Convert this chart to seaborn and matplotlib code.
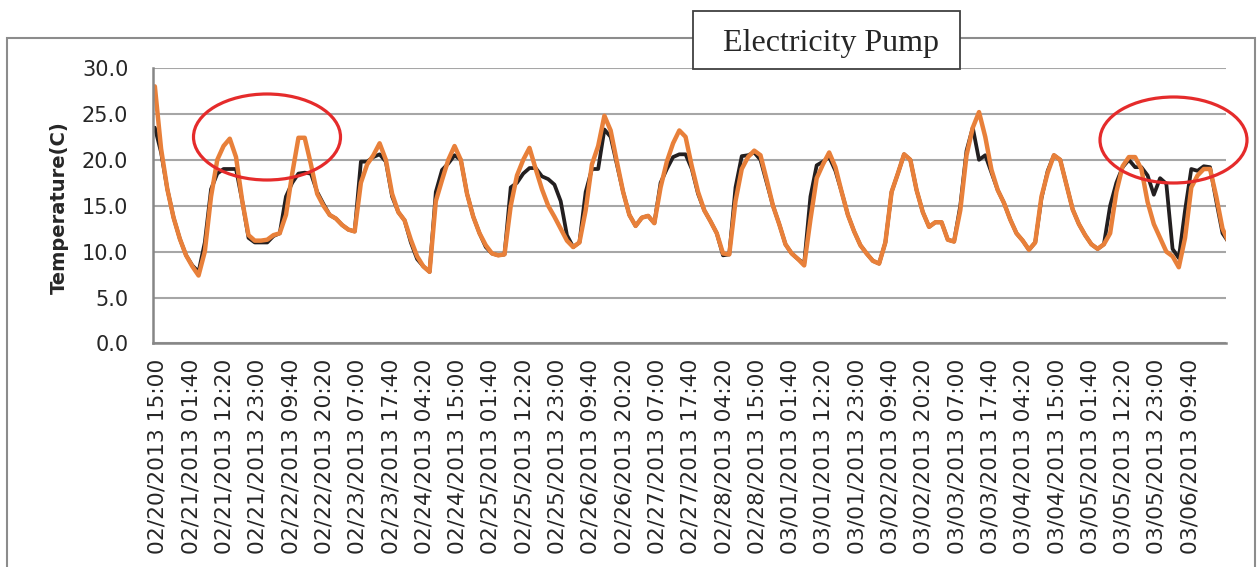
import pandas as pd
import seaborn as sns
import matplotlib.pyplot as plt
from matplotlib.patches import Rectangle, Ellipse

# readings every 2 hours, starting 02/20/2013 14:00
start_time = "2013-02-20 14:00"
step = "2h"

orange_temp = [
    28.0, 21.2, 16.8, 13.7, 11.4, 9.6, 8.4, 7.4, 10.0, 16.0, 20.0, 21.5,
    22.3, 20.3, 15.5, 11.8, 11.2, 11.2, 11.3, 11.8, 12.0, 14.0, 18.5, 22.4,
    22.4, 19.5, 16.3, 15.0, 14.0, 13.6, 12.9, 12.4, 12.2, 17.5, 19.5, 20.5,
    21.8, 20.0, 16.3, 14.3, 13.4, 11.3, 9.5, 8.4, 7.8, 15.5, 17.8, 20.0,
    21.5, 20.0, 16.3, 13.8, 12.0, 10.7, 9.8, 9.6, 9.7, 15.0, 18.3, 20.0,
    21.3, 19.0, 16.8, 15.0, 13.8, 12.5, 11.2, 10.5, 11.0, 14.5, 19.5, 21.5,
    24.8, 23.2, 19.8, 16.5, 14.0, 12.8, 13.7, 13.9, 13.1, 17.0, 19.8, 21.8,
    23.2, 22.5, 19.3, 16.5, 14.5, 13.3, 12.0, 9.8, 9.7, 15.5, 19.0, 20.3,
    21.0, 20.5, 17.8, 15.0, 13.0, 10.8, 9.8, 9.2, 8.5, 13.5, 18.0, 19.5,
    20.8, 19.2, 16.5, 14.0, 12.2, 10.7, 9.8, 9.0, 8.7, 11.0, 16.5, 18.5,
    20.6, 20.0, 16.7, 14.3, 12.7, 13.2, 13.2, 11.3, 11.1, 14.5, 20.5, 23.5,
    25.2, 22.5, 18.9, 16.7, 15.3, 13.5, 12.0, 11.2, 10.2, 11.0, 16.0, 18.6,
    20.5, 20.0, 17.3, 14.6, 13.0, 11.8, 10.8, 10.3, 10.8, 12.0, 16.5, 19.3,
    20.3, 20.3, 19.0, 15.4, 13.0, 11.5, 10.0, 9.5, 8.3, 11.5, 17.0, 18.3,
    19.0, 19.0, 16.0, 12.5, 11.0,
]

black_temp = [
    23.5, 20.8, 16.8, 13.7, 11.4, 9.6, 8.5, 7.8, 11.0, 16.8, 18.5, 19.0,
    19.0, 19.0, 15.5, 11.5, 11.0, 11.0, 11.0, 11.7, 12.0, 16.0, 17.5, 18.5,
    18.6, 18.5, 16.5, 15.2, 14.0, 13.6, 12.9, 12.4, 12.2, 19.8, 19.8, 20.3,
    20.6, 19.8, 16.0, 14.3, 13.4, 11.0, 9.2, 8.4, 7.8, 16.5, 18.9, 19.6,
    20.5, 20.0, 16.3, 13.8, 12.0, 10.5, 9.8, 9.6, 9.7, 17.0, 17.5, 18.5,
    19.1, 19.1, 18.2, 17.9, 17.3, 15.5, 11.8, 10.5, 11.0, 16.5, 19.0, 19.0,
    23.3, 22.5, 19.5, 16.5, 14.0, 12.8, 13.7, 13.9, 13.1, 17.5, 19.0, 20.3,
    20.6, 20.6, 19.0, 16.3, 14.5, 13.3, 12.0, 9.6, 9.7, 17.0, 20.4, 20.5,
    20.8, 20.0, 17.5, 15.0, 13.0, 10.8, 9.8, 9.2, 8.7, 16.0, 19.4, 19.8,
    20.3, 18.8, 16.5, 14.0, 12.2, 10.7, 9.8, 9.0, 8.7, 11.0, 16.5, 18.5,
    20.6, 20.0, 16.7, 14.3, 12.7, 13.2, 13.2, 11.3, 11.1, 15.0, 21.0, 23.5,
    20.0, 20.5, 18.6, 16.7, 15.3, 13.5, 12.0, 11.2, 10.2, 11.0, 15.8, 18.8,
    20.5, 20.0, 17.3, 14.6, 13.0, 11.8, 10.8, 10.3, 10.8, 15.0, 17.5, 19.2,
    20.0, 19.2, 19.2, 18.3, 16.2, 18.0, 17.4, 10.3, 9.3, 14.5, 19.0, 18.8,
    19.3, 19.2, 15.5, 12.0, 11.0,
]

tick_labels = [
    "02/20/2013 15:00", "02/21/2013 01:40", "02/21/2013 12:20", "02/21/2013 23:00",
    "02/22/2013 09:40", "02/22/2013 20:20", "02/23/2013 07:00", "02/23/2013 17:40",
    "02/24/2013 04:20", "02/24/2013 15:00", "02/25/2013 01:40", "02/25/2013 12:20",
    "02/25/2013 23:00", "02/26/2013 09:40", "02/26/2013 20:20", "02/27/2013 07:00",
    "02/27/2013 17:40", "02/28/2013 04:20", "02/28/2013 15:00", "03/01/2013 01:40",
    "03/01/2013 12:20", "03/01/2013 23:00", "03/02/2013 09:40", "03/02/2013 20:20",
    "03/03/2013 07:00", "03/03/2013 17:40", "03/04/2013 04:20", "03/04/2013 15:00",
    "03/05/2013 01:40", "03/05/2013 12:20", "03/05/2013 23:00", "03/06/2013 09:40",
]
y_ticks = [0, 5, 10, 15, 20, 25, 30]

times = pd.date_range(start_time, periods=len(orange_temp), freq=step)
df = pd.DataFrame({"time": times, "black": black_temp, "orange": orange_temp})
tick_pos = pd.to_datetime(tick_labels, format="%m/%d/%Y %H:%M")

sns.set_style("white")
plt.rcParams["font.family"] = ["DejaVu Sans"]

fig = plt.figure(figsize=(12.57, 5.67), dpi=100)
ax = fig.add_axes([0.1217, 0.3942, 0.8536, 0.4859])

sns.lineplot(data=df, x="time", y="black", color="#231f20", linewidth=2.7, ax=ax)
sns.lineplot(data=df, x="time", y="orange", color="#e8803a", linewidth=3.2, ax=ax)

ax.set_xlim(pd.Timestamp("2013-02-20 13:24"), pd.Timestamp("2013-03-06 21:06"))
ax.set_ylim(0, 30)
ax.set_yticks(y_ticks)
ax.set_yticklabels([f"{v:.1f}" for v in y_ticks])
ax.set_xticks(tick_pos)
ax.set_xticklabels(tick_labels, rotation=90)
ax.yaxis.grid(True, color="#a6a6a6", linewidth=1.5)
ax.set_axisbelow(True)

for side in ["top", "right"]:
    ax.spines[side].set_visible(False)
for side in ["left", "bottom"]:
    ax.spines[side].set_color("#868686")
    ax.spines[side].set_linewidth(1.8)

ax.tick_params(axis="y", length=5.8, width=1.3, color="#868686", pad=12, labelsize=15)
ax.tick_params(axis="x", length=0, pad=11, labelsize=15.7)

ax.set_xlabel("")
ax.set_ylabel("Temperature(C)", fontsize=14, fontweight="bold", va="center")
ax.yaxis.set_label_coords(-0.0876, 0.494)

# outer chart frame
fig.add_artist(Rectangle((7 / 1257, -0.1), 1248 / 1257, 0.1 + 1 - 38 / 567,
                         transform=fig.transFigure, fill=False,
                         edgecolor="#8c8c8c", linewidth=1.5))

# title box
fig.add_artist(Rectangle((693 / 1257, 1 - 69 / 567), 267 / 1257, 58 / 567,
                         transform=fig.transFigure, facecolor="white",
                         edgecolor="#404040", linewidth=1.3, zorder=5))
fig.text(831 / 1257, 1 - 51 / 567, "Electricity Pump", ha="center", va="baseline",
         family="Liberation Serif", fontsize=23, zorder=6)

# red highlight ellipses
for cx, cy in [(267, 137), (1173.5, 140)]:
    fig.add_artist(Ellipse((cx / 1257, 1 - cy / 567), 147 / 1257, 86 / 567,
                           transform=fig.transFigure, fill=False,
                           edgecolor="#e52b2b", linewidth=2.3, zorder=7))

plt.savefig("out.png", dpi=100)
